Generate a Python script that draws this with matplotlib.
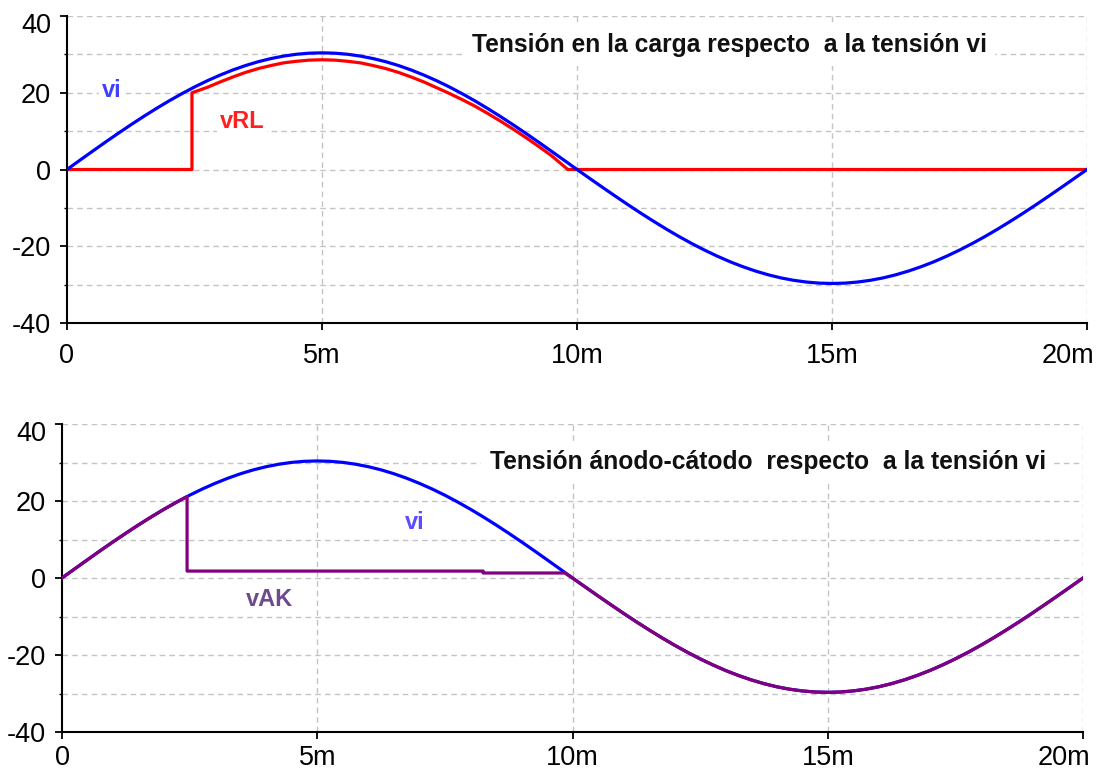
import matplotlib
matplotlib.use("Agg")
import matplotlib.pyplot as plt
from matplotlib.ticker import MultipleLocator, FixedLocator

plt.rcParams['font.family'] = ['Liberation Sans', 'DejaVu Sans']
plt.rcParams['axes.unicode_minus'] = False

# time axis (ms), samples every 0.25 ms
t_vi = [i * 0.25 for i in range(81)]
vi = [0, 2.39, 4.75, 7.10, 9.39, 11.63, 13.80, 15.88, 17.87, 19.74, 21.50, 23.12, 24.59,
      25.92, 27.09, 28.09, 28.91, 29.56, 30.03, 30.31, 30.40, 30.31, 30.03, 29.56, 28.91,
      28.09, 27.09, 25.92, 24.59, 23.12, 21.50, 19.74, 17.87, 15.88, 13.80, 11.63, 9.39,
      7.10, 4.75, 2.39, 0,
      -2.33, -4.65, -6.93, -9.18, -11.37, -13.48, -15.52, -17.46, -19.29, -21.00, -22.58,
      -24.03, -25.32, -26.46, -27.44, -28.25, -28.88, -29.33, -29.61, -29.70, -29.61,
      -29.33, -28.88, -28.25, -27.44, -26.46, -25.32, -24.03, -22.58, -21.00, -19.29,
      -17.46, -15.52, -13.48, -11.37, -9.18, -6.93, -4.65, -2.33, 0]

t_rl = [0, 2.45, 2.45, 2.75, 3.0, 3.25, 3.5, 3.75, 4.0, 4.25, 4.5, 4.75, 5.0, 5.25, 5.5,
        5.75, 6.0, 6.25, 6.5, 6.75, 7.0, 7.25, 7.5, 7.75, 8.0, 8.25, 8.5, 8.75, 9.0, 9.25,
        9.5, 9.82, 9.82, 20]
v_rl = [0, 0, 20.0, 21.4, 22.8, 24.1, 25.3, 26.3, 27.1, 27.8, 28.2, 28.5, 28.6, 28.5,
        28.2, 27.8, 27.1, 26.3, 25.3, 24.1, 22.8, 21.3, 19.8, 18.2, 16.5, 14.6, 12.6,
        10.5, 8.3, 6.0, 3.6, 0.0, 0, 0]

t_ak = [0, 0.25, 0.5, 0.75, 1.0, 1.25, 1.5, 1.75, 2.0, 2.25, 2.45, 2.45, 8.25, 8.25, 9.85,
        10.0, 10.25, 10.5, 10.75, 11.0, 11.25, 11.5, 11.75, 12.0, 12.25, 12.5, 12.75,
        13.0, 13.25, 13.5, 13.75, 14.0, 14.25, 14.5, 14.75, 15.0, 15.25, 15.5, 15.75,
        16.0, 16.25, 16.5, 16.75, 17.0, 17.25, 17.5, 17.75, 18.0, 18.25, 18.5, 18.75,
        19.0, 19.25, 19.5, 19.75, 20.0]
v_ak = [0, 2.39, 4.75, 7.10, 9.39, 11.63, 13.80, 15.88, 17.87, 19.74, 21.16, 1.8, 1.8,
        1.3, 1.3, 0,
        -2.33, -4.65, -6.93, -9.18, -11.37, -13.48, -15.52, -17.46, -19.29, -21.00, -22.58,
        -24.03, -25.32, -26.46, -27.44, -28.25, -28.88, -29.33, -29.61, -29.70, -29.61,
        -29.33, -28.88, -28.25, -27.44, -26.46, -25.32, -24.03, -22.58, -21.00, -19.29,
        -17.46, -15.52, -13.48, -11.37, -9.18, -6.93, -4.65, -2.33, 0]

x_ticks = [0, 5, 10, 15, 20]
x_labels = ["0", "5m", "10m", "15m", "20m"]
y_ticks = [-40, -20, 0, 20, 40]
y_labels = ["-40", "-20", "0", "20", "40"]

fig = plt.figure(figsize=(11.01, 7.75), dpi=100)
ax1 = fig.add_axes([67/1101, 1-323/775, (1087-67)/1101, (323-16)/775])
ax2 = fig.add_axes([62/1101, 1-732/775, (1083-62)/1101, (732-424)/775])

grid_kw = dict(color='#c4c4c4', linestyle=(0, (4, 3)), linewidth=1.0)
FS = 19.5

for ax, xpad in ((ax1, 9.5), (ax2, 4.5)):
    ax.set_xlim(0, 20)
    ax.set_ylim(-40, 40)
    ax.xaxis.set_major_locator(FixedLocator(x_ticks))
    ax.set_xticklabels(x_labels[:-1] + [""])
    ax.yaxis.set_major_locator(FixedLocator(y_ticks))
    ax.set_yticklabels(y_labels[:-1] + [""])
    ax.yaxis.set_minor_locator(MultipleLocator(10))
    for s in ('top', 'right'):
        ax.spines[s].set_visible(False)
    ax.spines['left'].set_linewidth(1.5)
    ax.spines['bottom'].set_linewidth(1.5)
    ax.tick_params(axis='both', which='major', direction='out', length=5, width=1.3,
                   labelsize=FS, colors='black')
    ax.tick_params(axis='y', which='minor', direction='out', length=2.5, width=1.0)
    ax.tick_params(axis='y', which='major', pad=6.5)
    ax.tick_params(axis='x', which='major', pad=xpad)
    for v in range(-30, 41, 10):
        ax.axhline(v, zorder=0, **grid_kw)
    for x in (5, 10, 15, 20):
        ax.axvline(x, zorder=0, **grid_kw)
    # last x tick label shifted left so it stays inside the figure
    off = (5 + xpad) * 100 / 72
    ax.annotate(x_labels[-1], xy=(x_ticks[-1], y_ticks[0]), xycoords='data',
                xytext=(7, -off), textcoords='offset pixels', ha='right', va='top',
                fontsize=FS, annotation_clip=False)
    # top y label placed below its tick (as in the reference)
    ax.annotate(y_labels[-1], xy=(x_ticks[0], y_ticks[-1]), xycoords='data',
                xytext=(-16, 3), textcoords='offset pixels', ha='right', va='top',
                fontsize=FS, annotation_clip=False)

# top plot
ax1.plot(t_rl, v_rl, color='#ff0000', linewidth=2.3, zorder=3)
ax1.plot(t_vi, vi, color='#0000ff', linewidth=2.3, zorder=4)
bbox_w = dict(facecolor='white', edgecolor='none', pad=2)
ax1.text(7.94, 32.4, "Tensión en la carga respecto  a la tensión vi", fontsize=17.7,
         fontweight='bold', color='#111111', ha='left', va='center', zorder=5,
         bbox=dict(facecolor='white', edgecolor='none', pad=6))
ax1.text(0.88, 20.5, "vi", fontsize=17, fontweight='bold', color='#4040ff',
         ha='center', va='center', zorder=5, bbox=bbox_w)
ax1.text(3.43, 12.6, "vRL", fontsize=17, fontweight='bold', color='#ff2020',
         ha='center', va='center', zorder=5, bbox=bbox_w)

# bottom plot
ax2.plot(t_vi, vi, color='#0000ff', linewidth=2.3, zorder=3)
ax2.plot(t_ak, v_ak, color='#800080', linewidth=2.3, zorder=4)
ax2.text(8.38, 30.1, "Tensión ánodo-cátodo  respecto  a la tensión vi", fontsize=17.7,
         fontweight='bold', color='#111111', ha='left', va='center', zorder=5,
         bbox=dict(facecolor='white', edgecolor='none', pad=6))
ax2.text(6.9, 14.3, "vi", fontsize=17, fontweight='bold', color='#5a4cff',
         ha='center', va='center', zorder=5, bbox=bbox_w)
ax2.text(4.07, -5.7, "vAK", fontsize=17, fontweight='bold', color='#6e4a8e',
         ha='center', va='center', zorder=5, bbox=bbox_w)

fig.savefig("out.png", dpi=100, facecolor='white')
